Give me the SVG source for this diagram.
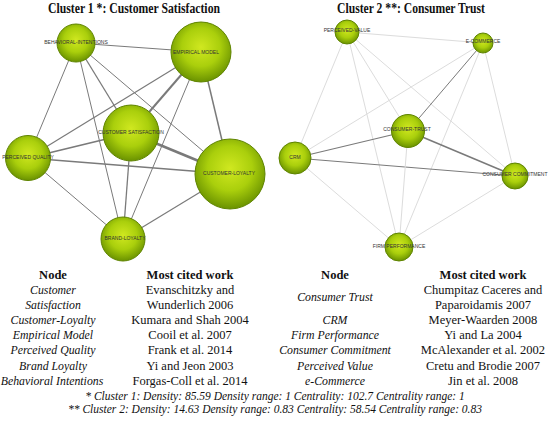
<svg xmlns="http://www.w3.org/2000/svg" width="550" height="423" viewBox="0 0 550 423">
<defs>
<radialGradient id="g" cx="50%" cy="42%" r="58%">
<stop offset="0" stop-color="#d0e820"/>
<stop offset="0.55" stop-color="#aacf0c"/>
<stop offset="1" stop-color="#6a9200"/>
</radialGradient>
<style>
.n{fill:url(#g);stroke:#5f8400;stroke-width:1}
.nl{font-family:"Liberation Sans",Arial,sans-serif;font-size:5px;fill:#333;text-anchor:middle;dominant-baseline:central}
.e1{stroke:#7a7a7a;fill:none}
.e2{stroke:#dcdcdc;fill:none;stroke-width:1}
.t{font-family:"Liberation Serif","Times New Roman",serif;font-size:14px;font-weight:bold;text-anchor:middle;fill:#111}
.h{font-family:"Liberation Serif","Times New Roman",serif;font-size:12.5px;font-weight:bold;text-anchor:middle;fill:#111}
.c{font-family:"Liberation Serif","Times New Roman",serif;font-size:12.5px;text-anchor:middle;fill:#111}
.i{font-family:"Liberation Serif","Times New Roman",serif;font-size:11.8px;font-style:italic;text-anchor:middle;fill:#111}
.f{font-family:"Liberation Serif","Times New Roman",serif;font-size:11.5px;font-style:italic;text-anchor:middle;fill:#111}
</style>
</defs>
<rect width="550" height="423" fill="#fff"/>
<text class="t" x="134" y="13" textLength="172" lengthAdjust="spacingAndGlyphs">Cluster 1 *: Customer Satisfaction</text>
<text class="t" x="411" y="13" textLength="148" lengthAdjust="spacingAndGlyphs">Cluster 2 **: Consumer Trust</text>
<g id="connectors">
<g id="c1">
<line class="e1" x1="76" y1="43" x2="201" y2="52" stroke-width="1"/>
<line class="e1" x1="76" y1="43" x2="28" y2="158" stroke-width="1"/>
<line class="e1" x1="76" y1="43" x2="123" y2="239" stroke-width="1"/>
<line class="e1" x1="76" y1="43" x2="131" y2="133" stroke-width="1.3"/>
<line class="e1" x1="76" y1="43" x2="230" y2="174" stroke-width="1"/>
<line class="e1" x1="201" y1="52" x2="28" y2="158" stroke-width="1.2"/>
<line class="e1" x1="201" y1="52" x2="131" y2="133" stroke-width="2"/>
<line class="e1" x1="201" y1="52" x2="123" y2="239" stroke-width="1"/>
<line class="e1" x1="201" y1="52" x2="230" y2="174" stroke-width="1.5"/>
<line class="e1" x1="131" y1="133" x2="28" y2="158" stroke-width="1.8"/>
<line class="e1" x1="131" y1="133" x2="230" y2="174" stroke-width="2.5"/>
<line class="e1" x1="131" y1="133" x2="123" y2="239" stroke-width="1.3"/>
<line class="e1" x1="28" y1="158" x2="230" y2="174" stroke-width="1.5"/>
<line class="e1" x1="28" y1="158" x2="123" y2="239" stroke-width="1"/>
<line class="e1" x1="230" y1="174" x2="123" y2="239" stroke-width="1.2"/>
</g>
<g id="c2">
<line class="e2" x1="347" y1="32" x2="483" y2="43"/>
<line class="e2" x1="347" y1="32" x2="295" y2="158"/>
<line class="e2" x1="347" y1="32" x2="408" y2="131"/>
<line class="e2" x1="347" y1="32" x2="515" y2="176"/>
<line class="e2" x1="347" y1="32" x2="399" y2="247"/>
<line class="e2" x1="483" y1="43" x2="295" y2="158"/>
<line class="e1" x1="483" y1="43" x2="408" y2="131" stroke="#c8c8c8" stroke-width="1"/>
<line class="e2" x1="483" y1="43" x2="515" y2="176"/>
<line class="e2" x1="483" y1="43" x2="399" y2="247"/>
<line class="e1" x1="295" y1="158" x2="408" y2="131" stroke="#8a8a8a" stroke-width="1.2"/>
<line class="e1" x1="408" y1="131" x2="515" y2="176" stroke="#7a7a7a" stroke-width="1.5"/>
<line class="e1" x1="295" y1="158" x2="515" y2="176" stroke="#a8a8a8" stroke-width="1"/>
<line class="e2" x1="295" y1="158" x2="399" y2="247"/>
<line class="e2" x1="408" y1="131" x2="399" y2="247"/>
<line class="e2" x1="515" y1="176" x2="399" y2="247"/>
</g>
</g>
<g id="n-behavioral"><circle class="n" cx="76" cy="43" r="19"/><text class="nl" x="76" y="42">BEHAVIORAL-INTENTIONS</text></g>
<g id="n-empirical"><circle class="n" cx="201" cy="52" r="30"/><text class="nl" x="196" y="52">EMPIRICAL MODEL</text></g>
<g id="n-custsat"><circle class="n" cx="131" cy="133" r="28"/><text class="nl" x="131" y="132">CUSTOMER SATISFACTION</text></g>
<g id="n-perqual"><circle class="n" cx="28" cy="158" r="22.5"/><text class="nl" x="28" y="157">PERCEIVED QUALITY</text></g>
<g id="n-custloy"><circle class="n" cx="230" cy="174" r="35"/><text class="nl" x="229" y="173">CUSTOMER-LOYALTY</text></g>
<g id="n-brandloy"><circle class="n" cx="123" cy="239" r="22"/><text class="nl" x="125" y="238">BRAND-LOYALTY</text></g>
<g id="n-pervalue"><circle class="n" cx="347" cy="32" r="12"/><text class="nl" x="347" y="30">PERCEIVED-VALUE</text></g>
<g id="n-ecommerce"><circle class="n" cx="483" cy="43" r="10"/><text class="nl" x="483" y="41">E-COMMERCE</text></g>
<g id="n-construst"><circle class="n" cx="408" cy="131" r="16.5"/><text class="nl" x="407" y="129">CONSUMER-TRUST</text></g>
<g id="n-crm"><circle class="n" cx="295" cy="158" r="16"/><text class="nl" x="295" y="157">CRM</text></g>
<g id="n-conscomm"><circle class="n" cx="515" cy="176" r="13"/><text class="nl" x="515" y="174">CONSUMER COMMITMENT</text></g>
<g id="n-firmperf"><circle class="n" cx="399" cy="247" r="14"/><text class="nl" x="399" y="246">FIRM PERFORMANCE</text></g>
<g id="table">
<text class="h" x="53" y="279">Node</text>
<text class="h" x="190" y="279">Most cited work</text>
<text class="h" x="335" y="279">Node</text>
<text class="h" x="483" y="279">Most cited work</text>
<text class="i" x="53" y="294">Customer</text>
<text class="i" x="53" y="309">Satisfaction</text>
<text class="i" x="53" y="324">Customer-Loyalty</text>
<text class="i" x="53" y="339">Empirical Model</text>
<text class="i" x="53" y="354">Perceived Quality</text>
<text class="i" x="53" y="370">Brand Loyalty</text>
<text class="i" x="52" y="385">Behavioral Intentions</text>
<text class="c" x="190" y="294">Evanschitzky and</text>
<text class="c" x="190" y="309">Wunderlich 2006</text>
<text class="c" x="190" y="324">Kumara and Shah 2004</text>
<text class="c" x="190" y="339">Cooil et al. 2007</text>
<text class="c" x="190" y="354">Frank et al. 2014</text>
<text class="c" x="190" y="370">Yi and Jeon 2003</text>
<text class="c" x="190" y="385">Forgas-Coll et al. 2014</text>
<text class="i" x="335" y="301">Consumer Trust</text>
<text class="i" x="335" y="324">CRM</text>
<text class="i" x="335" y="339">Firm Performance</text>
<text class="i" x="335" y="354">Consumer Commitment</text>
<text class="i" x="335" y="370">Perceived Value</text>
<text class="i" x="335" y="385">e-Commerce</text>
<text class="c" x="483" y="294">Chumpitaz Caceres and</text>
<text class="c" x="483" y="309">Paparoidamis 2007</text>
<text class="c" x="483" y="324">Meyer-Waarden 2008</text>
<text class="c" x="483" y="339">Yi and La 2004</text>
<text class="c" x="483" y="354">McAlexander et al. 2002</text>
<text class="c" x="483" y="370">Cretu and Brodie 2007</text>
<text class="c" x="483" y="385">Jin et al. 2008</text>
<text class="f" x="275" y="400">* Cluster 1: Density: 85.59 Density range: 1 Centrality: 102.7 Centrality range: 1</text>
<text class="f" x="275" y="413">** Cluster 2: Density: 14.63 Density range: 0.83 Centrality: 58.54 Centrality range: 0.83</text>
</g>
</svg>
